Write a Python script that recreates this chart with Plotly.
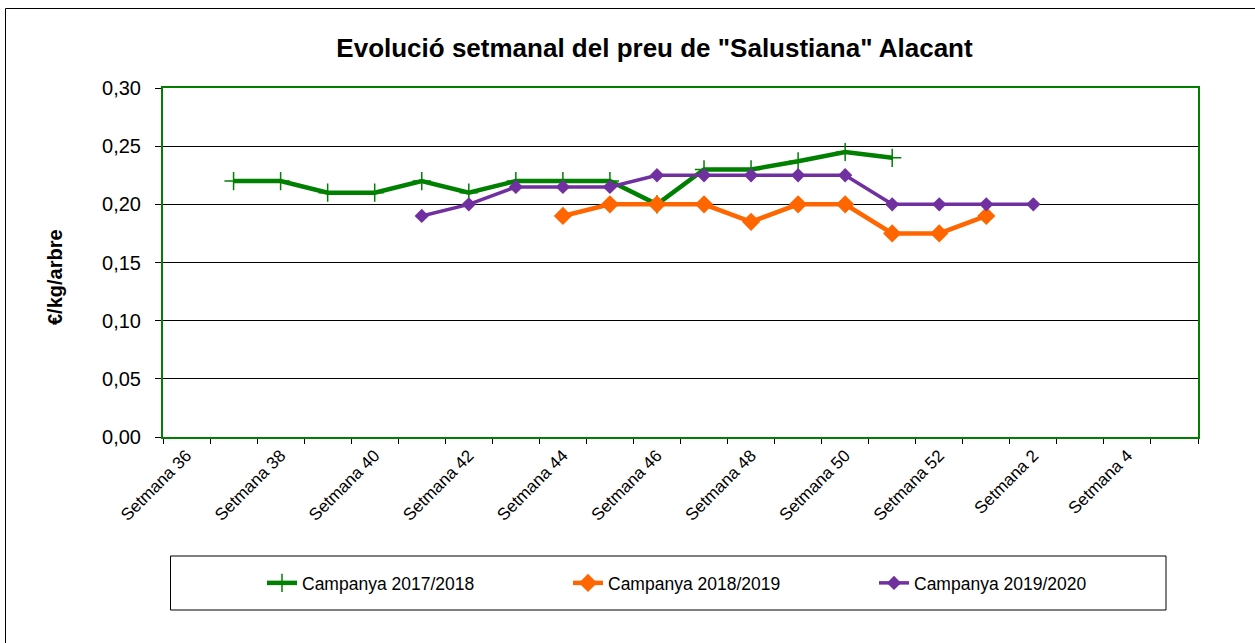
import plotly.graph_objects as go

# ---- data ----
weeks = ["Setmana 36", "Setmana 37", "Setmana 38", "Setmana 39", "Setmana 40",
         "Setmana 41", "Setmana 42", "Setmana 43", "Setmana 44", "Setmana 45",
         "Setmana 46", "Setmana 47", "Setmana 48", "Setmana 49", "Setmana 50",
         "Setmana 51", "Setmana 52", "Setmana 1", "Setmana 2", "Setmana 3",
         "Setmana 4", "Setmana 5"]
tick_labels = ["Setmana 36", "", "Setmana 38", "", "Setmana 40", "", "Setmana 42", "",
               "Setmana 44", "", "Setmana 46", "", "Setmana 48", "", "Setmana 50", "",
               "Setmana 52", "", "Setmana 2", "", "Setmana 4", ""]

campanya_2017_2018 = [None, 0.22, 0.22, 0.21, 0.21, 0.22, 0.21, 0.22, 0.22, 0.22,
                      0.20, 0.23, 0.23, 0.237, 0.245, 0.24, None, None, None, None,
                      None, None]
campanya_2018_2019 = [None, None, None, None, None, None, None, None, 0.19, 0.20,
                      0.20, 0.20, 0.185, 0.20, 0.20, 0.175, 0.175, 0.19, None, None,
                      None, None]
campanya_2019_2020 = [None, None, None, None, None, 0.19, 0.20, 0.215, 0.215, 0.215,
                      0.225, 0.225, 0.225, 0.225, 0.225, 0.20, 0.20, 0.20, 0.20, None,
                      None, None]

series_names = ["Campanya 2017/2018", "Campanya 2018/2019", "Campanya 2019/2020"]
y_ticks = [0.0, 0.05, 0.10, 0.15, 0.20, 0.25, 0.30]

# ---- layout geometry (pixels) ----
W, H = 1255, 643
PL, PR, PT, PB = 163, 1198, 88, 437


def px_x(p):
    return (p - PL) / (PR - PL)


def px_y(p):
    return (PB - p) / (PB - PT)


FONT = "Liberation Sans, Arial, sans-serif"

fig = go.Figure()
fig.add_trace(go.Scatter(
    x=weeks, y=campanya_2017_2018, name=series_names[0], mode="lines+markers",
    line=dict(color="#008000", width=4.5),
    marker=dict(symbol="cross-thin", size=13, color="#008000",
                line=dict(color="#008000", width=1.5)),
))
fig.add_trace(go.Scatter(
    x=weeks, y=campanya_2018_2019, name=series_names[1], mode="lines+markers",
    line=dict(color="#FF6600", width=4.5),
    marker=dict(symbol="diamond", size=14, color="#FF6600"),
))
fig.add_trace(go.Scatter(
    x=weeks, y=campanya_2019_2020, name=series_names[2], mode="lines+markers",
    line=dict(color="#7030A0", width=3.5),
    marker=dict(symbol="diamond", size=11, color="#7030A0"),
))

fig.update_layout(
    width=W, height=H,
    margin=dict(l=PL, r=W - PR, t=PT, b=H - PB, autoexpand=False),
    paper_bgcolor="white", plot_bgcolor="white",
    separators=",.",
    font=dict(family=FONT, color="black"),
    title=dict(text="<b>Evolució setmanal del preu de \"Salustiana\" Alacant</b>",
               xref="container", yref="container",
               x=654.5 / W, y=1 - 48 / H, xanchor="center", yanchor="middle",
               font=dict(size=26, family=FONT, color="black")),
    showlegend=True,
    legend=dict(orientation="h", x=px_x(262), xanchor="left",
                y=px_y(583), yanchor="middle",
                entrywidth=261, entrywidthmode="pixels",
                font=dict(size=17.5, family=FONT, color="black"),
                bgcolor="rgba(0,0,0,0)", borderwidth=0,
                itemsizing="trace"),
    xaxis=dict(type="category", categoryorder="array", categoryarray=weeks,
               range=[-0.5, len(weeks) - 0.5],
               tickmode="array", tickvals=weeks, ticktext=tick_labels,
               tickson="boundaries", ticks="outside", ticklen=5,
               tickcolor="black", tickwidth=1, tickangle=-45,
               tickfont=dict(size=17, family=FONT, color="black"),
               showgrid=False, showline=True, linecolor="#008000",
               linewidth=2, mirror=True, zeroline=False),
    yaxis=dict(range=[0, 0.30], tickmode="array", tickvals=y_ticks,
               tickformat=".2f", ticks="outside", ticklen=6,
               tickcolor="black", tickwidth=1,
               ticklabelstandoff=10,
               tickfont=dict(size=20, family=FONT, color="black"),
               showgrid=True, gridcolor="black", gridwidth=1,
               showline=True, linecolor="#008000", linewidth=2, mirror=True,
               zeroline=False),
    annotations=[dict(text="<b>€/kg/arbre</b>", xref="paper", yref="paper",
                      x=px_x(55), y=px_y(277), xanchor="center", yanchor="middle",
                      textangle=-90, showarrow=False,
                      font=dict(size=20, family=FONT, color="black"))],
    shapes=[
        # outer chart frame
        dict(type="rect", xref="paper", yref="paper",
             x0=px_x(5.5), x1=px_x(1265), y0=px_y(8.5), y1=px_y(660),
             line=dict(color="black", width=1), fillcolor="rgba(0,0,0,0)",
             layer="below"),
        # legend frame
        dict(type="rect", xref="paper", yref="paper",
             x0=px_x(170.5), x1=px_x(1166), y0=px_y(556), y1=px_y(610),
             line=dict(color="black", width=1), fillcolor="rgba(0,0,0,0)"),
    ],
)

fig.write_html(
    "out.html",
    config={"displayModeBar": False},
    post_script="document.body.style.margin='0px';"
                "document.body.style.overflow='hidden';",
)
